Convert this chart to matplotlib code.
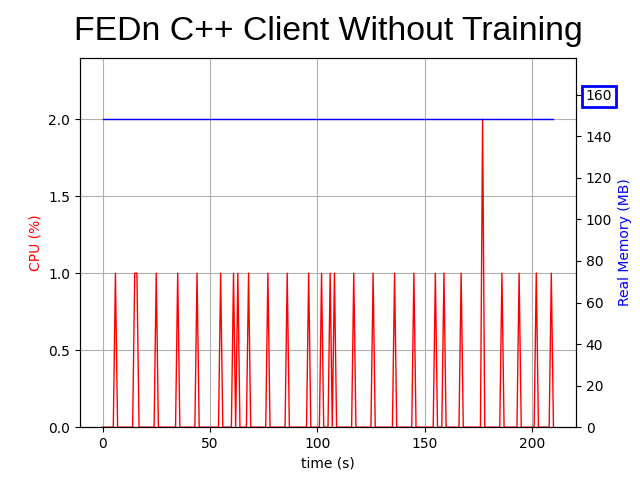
import matplotlib
matplotlib.use('Agg')
import matplotlib.pyplot as plt

# sampled once per second
time_s = list(range(211))
cpu_pct = [
    0, 0, 0, 0, 0, 0, 1, 0, 0, 0, 0, 0, 0, 0, 0, 1, 1, 0, 0, 0,
    0, 0, 0, 0, 0, 1, 0, 0, 0, 0, 0, 0, 0, 0, 0, 1, 0, 0, 0, 0,
    0, 0, 0, 0, 1, 0, 0, 0, 0, 0, 0, 0, 0, 0, 0, 1, 0, 0, 0, 0,
    0, 1, 0, 1, 0, 0, 0, 0, 1, 0, 0, 0, 0, 0, 0, 0, 0, 1, 0, 0,
    0, 0, 0, 0, 0, 0, 1, 0, 0, 0, 0, 0, 0, 0, 0, 0, 1, 0, 0, 0,
    0, 0, 1, 0, 0, 0, 1, 0, 1, 0, 0, 0, 0, 0, 0, 0, 0, 1, 0, 0,
    0, 0, 0, 0, 0, 0, 1, 0, 0, 0, 0, 0, 0, 0, 0, 0, 1, 0, 0, 0,
    0, 0, 0, 0, 0, 1, 0, 0, 0, 0, 0, 0, 0, 0, 0, 1, 0, 0, 0, 1,
    0, 0, 0, 0, 0, 0, 0, 1, 0, 0, 0, 0, 0, 0, 0, 0, 0, 2, 0, 0,
    0, 0, 0, 0, 0, 0, 1, 0, 0, 0, 0, 0, 0, 0, 1, 0, 0, 0, 0, 0,
    0, 0, 1, 0, 0, 0, 0, 0, 0, 1, 0,
]
mem_mb = [148.2] * len(time_s)  # flat the whole run

fig, ax1 = plt.subplots(figsize=(6.4, 4.8), dpi=100)
ax1.plot(time_s, cpu_pct, color='red', linewidth=1)
ax1.set_xlabel('time (s)')
ax1.set_ylabel('CPU (%)', color='red')
ax1.set_ylim(0, max(cpu_pct) * 1.2)
ax1.grid(True)
ax1.set_title('FEDn C++ Client Without Training', fontsize=24.3,
              family='Liberation Sans', pad=13)

ax2 = ax1.twinx()
ax2.plot(time_s, mem_mb, color='blue', linewidth=1)
ax2.set_ylabel('Real Memory (MB)', color='blue')
ax2.set_ylim(0, max(mem_mb) * 1.2)

# highlight the 160 MB tick
fig.canvas.draw()
for lbl in ax2.get_yticklabels():
    if lbl.get_text() == '160':
        lbl.set_bbox(dict(facecolor='none', edgecolor='blue', linewidth=2, pad=2.5))

plt.savefig('out.png', dpi=100)
plt.close()
